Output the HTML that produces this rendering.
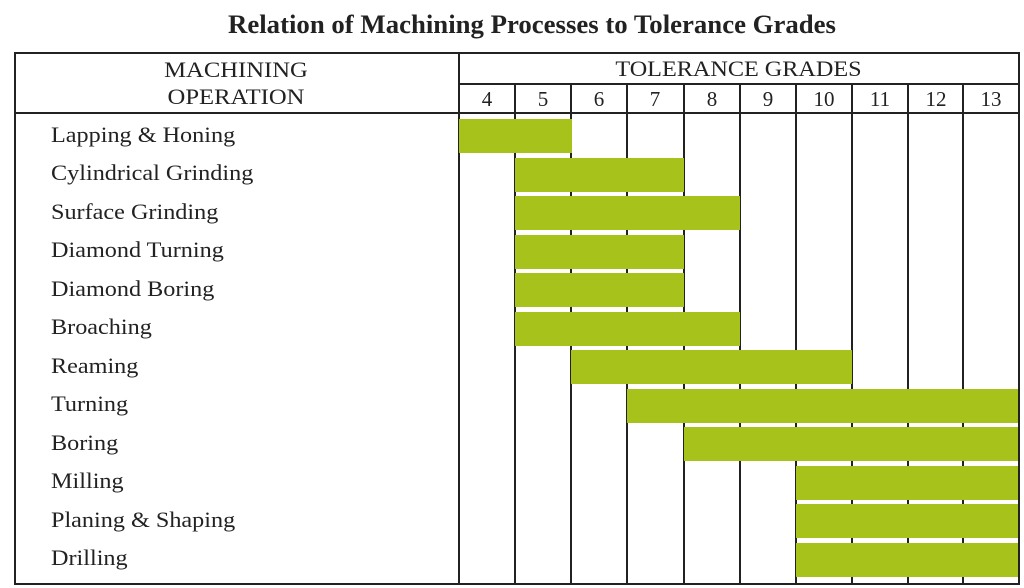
<!DOCTYPE html><html><head><style>
body{margin:0;background:#fff;width:1024px;height:588px;overflow:hidden;position:relative;font-family:"Liberation Serif",serif;color:#222}
.a{position:absolute}
.t{position:absolute;left:20px;width:1024px;text-align:center;top:10px;font-size:26px;font-weight:bold;transform:scaleX(1.03)}
.l{position:absolute;left:51px;font-size:22px;line-height:24px;transform:scaleX(1.1);transform-origin:0 0}
.n{position:absolute;top:87px;width:56px;text-align:center;font-size:21px}
.b{position:absolute;background:#a8c21c;height:34px}
.v{position:absolute;background:#222;width:2px}
.h{position:absolute;background:#222;height:2px}
</style></head><body>
<div class="t">Relation of Machining Processes to Tolerance Grades</div>
<div class="a" style="left:14px;top:52px;width:1002px;height:529px;border:2px solid #222"></div>
<div class="h" style="left:14px;top:112px;width:1004px"></div>
<div class="h" style="left:459px;top:83px;width:559px"></div>
<div class="v" style="left:458px;top:52px;height:531px"></div>
<div class="v" style="left:514px;top:83px;height:500px"></div>
<div class="v" style="left:570px;top:83px;height:500px"></div>
<div class="v" style="left:626px;top:83px;height:500px"></div>
<div class="v" style="left:683px;top:83px;height:500px"></div>
<div class="v" style="left:739px;top:83px;height:500px"></div>
<div class="v" style="left:795px;top:83px;height:500px"></div>
<div class="v" style="left:851px;top:83px;height:500px"></div>
<div class="v" style="left:907px;top:83px;height:500px"></div>
<div class="v" style="left:962px;top:83px;height:500px"></div>
<div class="a" style="left:14px;top:56px;width:444px;text-align:center;font-size:22px;line-height:27px;transform:scaleX(1.12)">MACHINING<br>OPERATION</div>
<div class="a" style="left:459px;top:56px;width:559px;text-align:center;font-size:22px;transform:scaleX(1.1)">TOLERANCE GRADES</div>
<div class="n" style="left:459px">4</div><div class="n" style="left:515px">5</div><div class="n" style="left:571px">6</div><div class="n" style="left:627px">7</div><div class="n" style="left:684px">8</div><div class="n" style="left:740px">9</div><div class="n" style="left:796px">10</div><div class="n" style="left:852px">11</div><div class="n" style="left:908px">12</div><div class="n" style="left:963px">13</div>
<div class="b" style="left:459px;width:113px;top:119px"></div>
<div class="b" style="left:515px;width:169px;top:157.5px"></div>
<div class="b" style="left:515px;width:225px;top:196px"></div>
<div class="b" style="left:515px;width:169px;top:234.5px"></div>
<div class="b" style="left:515px;width:169px;top:273px"></div>
<div class="b" style="left:515px;width:225px;top:311.5px"></div>
<div class="b" style="left:571px;width:281px;top:350px"></div>
<div class="b" style="left:627px;width:391px;top:388.5px"></div>
<div class="b" style="left:684px;width:334px;top:427px"></div>
<div class="b" style="left:796px;width:222px;top:465.5px"></div>
<div class="b" style="left:796px;width:222px;top:504px"></div>
<div class="b" style="left:796px;width:222px;top:542.5px"></div>
<div class="l" style="top:123px">Lapping &amp; Honing</div>
<div class="l" style="top:161px">Cylindrical Grinding</div>
<div class="l" style="top:200px">Surface Grinding</div>
<div class="l" style="top:238px">Diamond Turning</div>
<div class="l" style="top:277px">Diamond Boring</div>
<div class="l" style="top:315px">Broaching</div>
<div class="l" style="top:354px">Reaming</div>
<div class="l" style="top:392px">Turning</div>
<div class="l" style="top:431px">Boring</div>
<div class="l" style="top:469px">Milling</div>
<div class="l" style="top:508px">Planing &amp; Shaping</div>
<div class="l" style="top:546px">Drilling</div>
</body></html>
